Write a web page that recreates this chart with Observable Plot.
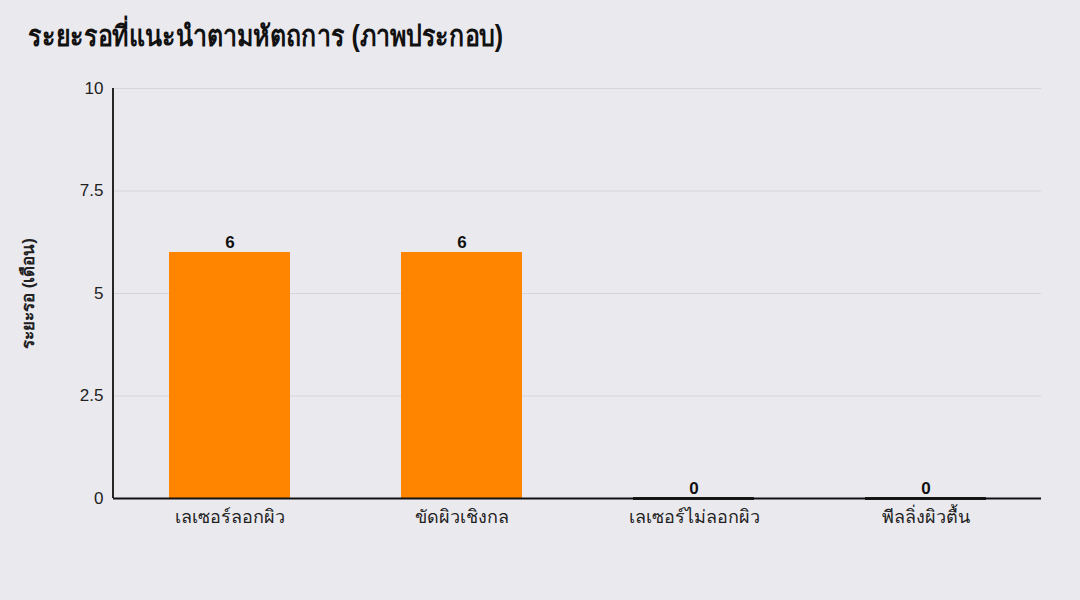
<!DOCTYPE html>
<html>
<head>
<meta charset="utf-8">
<script src="https://cdn.jsdelivr.net/npm/d3@7"></script>
<script src="https://cdn.jsdelivr.net/npm/@observablehq/plot@0.6"></script>
<style>
  html, body { margin: 0; padding: 0; background: #eae9ee; }
  body { width: 1080px; height: 600px; overflow: hidden; font-family: "Liberation Sans", Arial, sans-serif; }
  #title { height: 70px; box-sizing: border-box; padding: 19px 0 0 28px; font-size: 29px; font-weight: 700; color: #111; line-height: 1.2; }
  #title span { display: inline-block; transform: scaleX(0.86); transform-origin: left center; white-space: nowrap; }
  svg { display: block; }
</style>
</head>
<body>
<div id="title"><span>ระยะรอที่แนะนำตามหัตถการ (ภาพประกอบ)</span></div>
<div id="chart"></div>
<script>
const categories = ["เลเซอร์ลอกผิว", "ขัดผิวเชิงกล", "เลเซอร์ไม่ลอกผิว", "พีลลิ่งผิวตื้น"];
const months = [6, 6, 0, 0];
const yTicks = [0, 2.5, 5, 7.5, 10];
const yLabel = "ระยะรอ (เดือน)";

const data = categories.map((c, i) => ({category: c, value: months[i]}));

const chart = Plot.plot({
  width: 1080,
  height: 530,
  marginLeft: 113,
  marginRight: 39,
  marginTop: 18,
  marginBottom: 102,
  style: {background: "transparent", fontFamily: "'Liberation Sans', Arial, sans-serif", fontSize: "17px", color: "#222"},
  x: {domain: categories, paddingInner: 0.48, paddingOuter: 0.24, label: null, tickSize: 0, tickPadding: 12},
  y: {domain: [0, 10], ticks: yTicks, tickFormat: d => String(d), label: yLabel, labelAnchor: "center", labelArrow: "none", labelOffset: 92, tickSize: 0, tickPadding: 10},
  marks: [
    Plot.gridY(yTicks, {stroke: "#cfcfd6", strokeOpacity: 1, strokeWidth: 0.8}),
    Plot.barY(data, {x: "category", y: "value", fill: "#ff8500"}),
    Plot.tickY(data.filter(d => d.value === 0), {x: "category", y: "value", stroke: "#222", strokeWidth: 3}),
    Plot.text(data, {x: "category", y: "value", text: d => String(d.value), dy: -10, fontSize: 17, fontWeight: 600, fill: "#111"}),
    Plot.ruleY([0], {stroke: "#111", strokeWidth: 1.8})
  ]
});
document.getElementById("chart").appendChild(chart);

// left axis line
const svg = d3.select(chart);
svg.append("line")
  .attr("x1", 113).attr("x2", 113)
  .attr("y1", 18).attr("y2", 428)
  .attr("stroke", "#111").attr("stroke-width", 1.8);
svg.selectAll("[aria-label='y-axis label'] text").attr("font-weight", 700).attr("font-size", 17);
svg.selectAll("[aria-label='x-axis tick label'] text").attr("font-size", 18);
</script>
</body>
</html>
